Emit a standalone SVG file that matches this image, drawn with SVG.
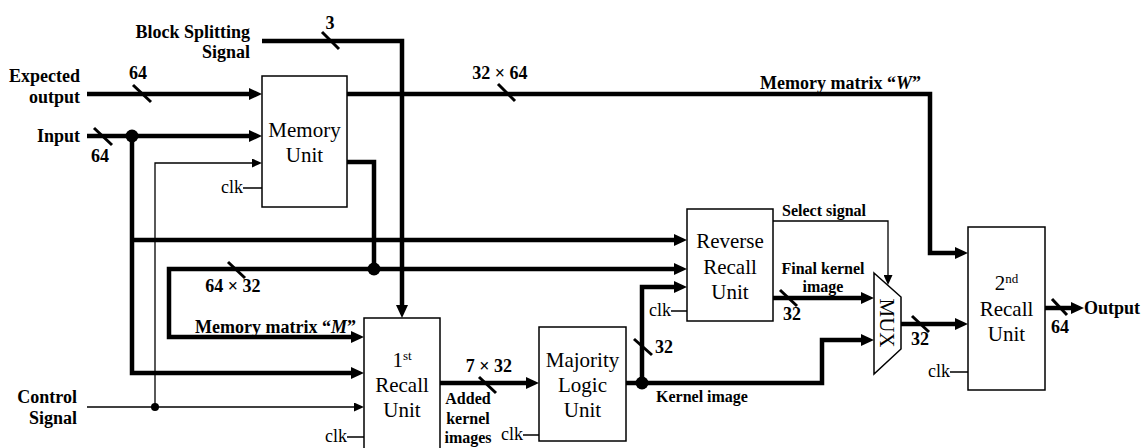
<svg xmlns="http://www.w3.org/2000/svg" width="1142" height="448" viewBox="0 0 1142 448">
<style>
text{font-family:"Liberation Serif","Times New Roman",serif;fill:#000}
.lb{font-weight:bold;font-size:18px}
.ls{font-weight:bold;font-size:16px}
.nd{font-size:21px}
.ck{font-size:18px}
.sup{font-size:13px}
.box{fill:#fff;stroke:#000;stroke-width:1.5}
.thick{fill:none;stroke:#000;stroke-width:4.5;stroke-linejoin:miter}
.thin{fill:none;stroke:#000;stroke-width:1.3}
.tick{stroke:#000;stroke-width:3}
</style>
<defs>
<marker id="ah" markerUnits="userSpaceOnUse" viewBox="0 0 13 12" markerWidth="13" markerHeight="12" refX="0" refY="6" orient="auto"><path d="M0,0 L13,6 L0,12 z" fill="#000"/></marker>
<marker id="at" markerUnits="userSpaceOnUse" viewBox="0 0 10 9" markerWidth="10" markerHeight="9" refX="0" refY="4.5" orient="auto"><path d="M0,0 L10,4.5 L0,9 z" fill="#000"/></marker>
</defs>
<rect width="1142" height="448" fill="#fff"/>
<g id="connectors">
<path class="thick" d="M262,41 H402 V305" marker-end="url(#ah)"/>
<path class="thick" d="M87,94 H249" marker-end="url(#ah)"/>
<path class="thick" d="M87,136 H249" marker-end="url(#ah)"/>
<path class="thick" d="M347,94 H930 V253 H955" marker-end="url(#ah)"/>
<path class="thick" d="M132,136 V373 H351" marker-end="url(#ah)"/>
<path class="thick" d="M132,240 H674" marker-end="url(#ah)"/>
<path class="thick" d="M347,162 H374 V269"/>
<path class="thick" d="M374,269 H674" marker-end="url(#ah)"/>
<path class="thick" d="M374,269 H169 V337 H351" marker-end="url(#ah)"/>
<path class="thick" d="M440,383 H526" marker-end="url(#ah)"/>
<path class="thick" d="M626,383 H822 V340 H861" marker-end="url(#ah)"/>
<path class="thick" d="M642,383 V287 H674" marker-end="url(#ah)"/>
<path class="thick" d="M773,298 H861" marker-end="url(#ah)"/>
<path class="thick" d="M901,324 H955" marker-end="url(#ah)"/>
<path class="thick" d="M1045,308 H1071" marker-end="url(#ah)"/>
<path class="thin" d="M87,407 H354" marker-end="url(#at)"/>
<path class="thin" d="M155,407 V163 H252" marker-end="url(#at)"/>
<path class="thin" d="M773,221 H888 V275" marker-end="url(#at)"/>
<path class="thin" d="M243,188 H262 M347,437 H364 M523,435 H539 M671,311 H687 M950,372 H968"/>
<circle cx="132" cy="136" r="6.5"/>
<circle cx="374" cy="269" r="6.5"/>
<circle cx="642" cy="383" r="6.5"/>
<circle cx="155" cy="407" r="4"/>
<path class="tick" d="M133,85 L151,102 M94,128 L112,145 M322,32 L339,49 M498,84 L515,101 M228,262 L245,278 M479,377 L496,393 M634,339 L652,355 M780,290 L797,306 M912,316 L929,332 M1052,299 L1067,315"/>
<text class="lb" x="330" y="29" text-anchor="middle">3</text>
<text class="lb" x="138" y="79" text-anchor="middle">64</text>
<text class="lb" x="100" y="162" text-anchor="middle">64</text>
<text class="lb" x="500" y="79" text-anchor="middle">32 × 64</text>
<text class="lb" x="760" y="89">Memory matrix “<tspan font-style="italic">W</tspan>”</text>
<text class="lb" x="233" y="292" text-anchor="middle">64 × 32</text>
<text class="lb" x="195" y="333">Memory matrix “<tspan font-style="italic">M</tspan>”</text>
<text class="lb" x="489" y="372" text-anchor="middle">7 × 32</text>
<text class="ls" x="468" y="404" text-anchor="middle">Added</text>
<text class="ls" x="468" y="424" text-anchor="middle">kernel</text>
<text class="ls" x="468" y="443" text-anchor="middle">images</text>
<text class="lb" x="655" y="353">32</text>
<text class="ls" x="656" y="402">Kernel image</text>
<text class="ls" x="782" y="216">Select signal</text>
<text class="ls" x="823" y="274" text-anchor="middle">Final kernel</text>
<text class="ls" x="823" y="292" text-anchor="middle">image</text>
<text class="lb" x="792" y="320" text-anchor="middle">32</text>
<text class="lb" x="920" y="345" text-anchor="middle">32</text>
<text class="lb" x="1060" y="333" text-anchor="middle">64</text>
<text class="lb" x="1084" y="314">Output</text>
<text class="ck" x="243" y="193" text-anchor="end">clk</text>
<text class="ck" x="347" y="442" text-anchor="end">clk</text>
<text class="ck" x="523" y="440" text-anchor="end">clk</text>
<text class="ck" x="671" y="316" text-anchor="end">clk</text>
<text class="ck" x="950" y="377" text-anchor="end">clk</text>
</g>
<g id="labels-in">
<text class="lb" x="250" y="38" text-anchor="end">Block Splitting</text>
<text class="lb" x="250" y="58" text-anchor="end">Signal</text>
<text class="lb" x="80" y="82" text-anchor="end">Expected</text>
<text class="lb" x="80" y="103" text-anchor="end">output</text>
<text class="lb" x="80" y="142" text-anchor="end">Input</text>
<text class="lb" x="77" y="403" text-anchor="end">Control</text>
<text class="lb" x="77" y="424" text-anchor="end">Signal</text>
</g>
<g id="memory-unit">
<rect class="box" x="262" y="76" width="85" height="131"/>
<text class="nd" x="304.5" y="137" text-anchor="middle">Memory</text>
<text class="nd" x="304.5" y="162" text-anchor="middle">Unit</text>
</g>
<g id="recall-1">
<rect class="box" x="364" y="318" width="76" height="140"/>
<text class="nd" x="402" y="367" text-anchor="middle">1<tspan class="sup" dy="-7">st</tspan></text>
<text class="nd" x="402" y="392" text-anchor="middle">Recall</text>
<text class="nd" x="402" y="417" text-anchor="middle">Unit</text>
</g>
<g id="majority">
<rect class="box" x="539" y="327" width="87" height="114"/>
<text class="nd" x="582.5" y="367" text-anchor="middle">Majority</text>
<text class="nd" x="582.5" y="392" text-anchor="middle">Logic</text>
<text class="nd" x="582.5" y="417" text-anchor="middle">Unit</text>
</g>
<g id="reverse-recall">
<rect class="box" x="687" y="209" width="86" height="112"/>
<text class="nd" x="730" y="248" text-anchor="middle">Reverse</text>
<text class="nd" x="730" y="274" text-anchor="middle">Recall</text>
<text class="nd" x="730" y="299" text-anchor="middle">Unit</text>
</g>
<g id="mux">
<polygon class="box" points="874,273 901,297 901,349 874,374"/>
<text class="nd" font-size="20px" transform="translate(880,323) rotate(90)" text-anchor="middle">MUX</text>
</g>
<g id="recall-2">
<rect class="box" x="968" y="227" width="77" height="163"/>
<text class="nd" x="1006.5" y="290" text-anchor="middle">2<tspan class="sup" dy="-7">nd</tspan></text>
<text class="nd" x="1006.5" y="316" text-anchor="middle">Recall</text>
<text class="nd" x="1006.5" y="341" text-anchor="middle">Unit</text>
</g>
</svg>
